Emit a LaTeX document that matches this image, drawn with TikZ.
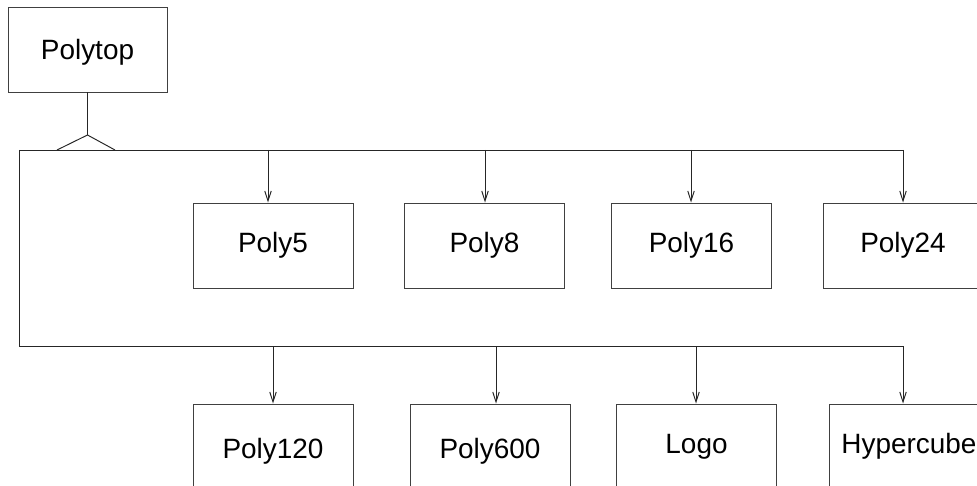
\documentclass[tikz,border=0pt]{standalone}
\usepackage{fontspec}
\setmainfont{Liberation Sans}
\usetikzlibrary{arrows.meta,positioning}

\begin{document}
\begin{tikzpicture}[x=0.02cm, y=-0.02cm,
    every node/.style={font=\fontsize{15.9}{19}\selectfont},
    classbox/.style={draw=black!75, line width=0.55pt, minimum width=3.2cm, minimum height=1.7cm, inner sep=0pt},
    lowtext/.style={text height=#1, text depth=3.3pt},
    busline/.style={draw=black!85, line width=0.55pt},
    subarrow/.style={busline, -{Straight Barb[length=0.2cm, width=0.13cm]}}]
  \useasboundingbox (0,0) rectangle (977,486);
  \clip (0,0) rectangle (977,486);

  \node[classbox, lowtext=15pt, minimum width=3.18cm] (polytop) at (87.5,49.5) {Polytop};

  % first row
  \node[classbox] (poly5) at (273,245.5) {Poly5};
  \node[classbox] (poly8) at (484.5,245.5) {Poly8};
  \node[classbox] (poly16) at (691.5,245.5) {Poly16};
  \node[classbox] (poly24) at (903,245.5) {Poly24};

  % second row
  \node[classbox, lowtext=16.5pt] (poly120) at (273,446.5) {Poly120};
  \node[classbox, lowtext=16.5pt] (poly600) at (490,446.5) {Poly600};
  \node[classbox] (logo) at (696.5,446.5) {Logo};
  \node[classbox] (hypercube) at (909,446.5) {Hypercube};

  % inheritance triangle
  \coordinate (apex) at (87.5,135);
  \coordinate (triL) at (57,150);
  \coordinate (triR) at (115,150);
  \draw[busline] (polytop.south) -- (apex);
  \draw[busline] (triL) -- (apex) -- (triR);

  % buses
  \coordinate (busA) at (19,150);
  \coordinate (busB) at (903,150);
  \coordinate (busC) at (19,346);
  \coordinate (busD) at (903,346);
  \draw[busline] (busA) -- (busB);
  \draw[busline] (busA) -- (busC) -- (busD);

  \foreach \x/\n in {268/poly5, 485/poly8, 691/poly16, 903/poly24}
    \draw[subarrow] (\x,150) -- (\x,150 |- \n.north);
  \foreach \x/\n in {273/poly120, 496/poly600, 696/logo, 903/hypercube}
    \draw[subarrow] (\x,346) -- (\x,346 |- \n.north);
\end{tikzpicture}
\end{document}
